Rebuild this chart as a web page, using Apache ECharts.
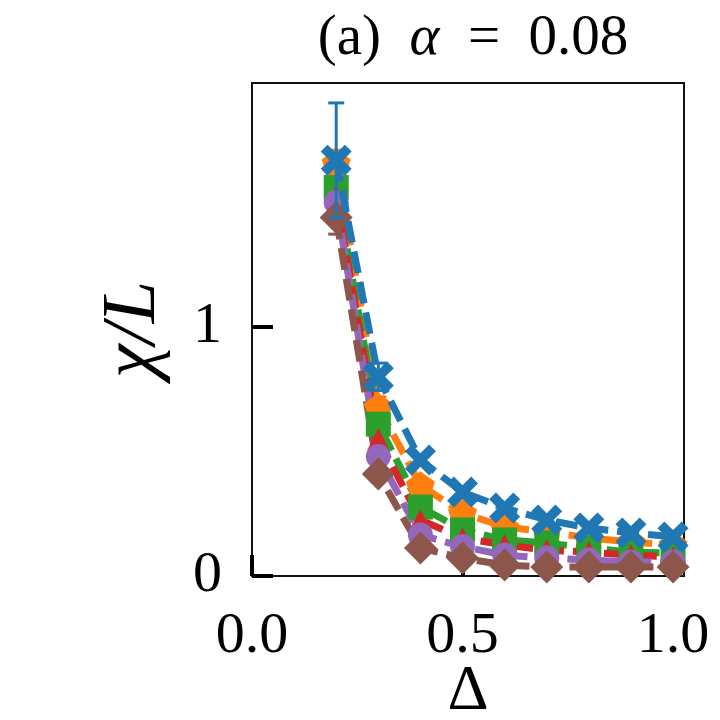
<!DOCTYPE html>
<html>
<head>
<meta charset="utf-8">
<script src="https://cdn.jsdelivr.net/npm/echarts@6/dist/echarts.min.js"></script>
<style>
  html, body { margin: 0; padding: 0; background: #fff; }
  #chart { width: 720px; height: 720px; }
</style>
</head>
<body>
<div id="chart"></div>
<script>
// Delta values (x) and chi/L for each series
var deltas = [0.2, 0.3, 0.4, 0.5, 0.6, 0.7, 0.8, 0.9, 1.0];

var chiBlue   = [1.67, 0.80, 0.466, 0.337, 0.273, 0.225, 0.193, 0.173, 0.157];
var chiOrange = [1.66, 0.68, 0.365, 0.253, 0.197, 0.177, 0.153, 0.137, 0.125];
var chiGreen  = [1.56, 0.61, 0.277, 0.185, 0.145, 0.133, 0.112, 0.096, 0.092];
var chiRed    = [1.53, 0.55, 0.225, 0.152, 0.125, 0.104, 0.096, 0.084, 0.076];
var chiPurple = [1.50, 0.48, 0.165, 0.118, 0.084, 0.072, 0.064, 0.056, 0.056];
var chiBrown  = [1.44, 0.41, 0.112, 0.072, 0.044, 0.036, 0.036, 0.036, 0.036];

var errBlue   = [0.23, 0.055, 0.02, 0.015, 0.01, 0.01, 0.01, 0.01, 0.01];
var errOrange = [0.05, 0.04, 0.02, 0.012, 0.01, 0.01, 0.008, 0.008, 0.008];
var errGreen  = [0.05, 0.03, 0.018, 0.01, 0.008, 0.008, 0.006, 0.006, 0.006];
var errRed    = [0.05, 0.03, 0.018, 0.01, 0.008, 0.008, 0.006, 0.006, 0.006];
var errPurple = [0.05, 0.03, 0.015, 0.01, 0.006, 0.006, 0.005, 0.005, 0.005];
var errBrown  = [0.067, 0.03, 0.015, 0.01, 0.006, 0.005, 0.005, 0.005, 0.005];

var xTicks = [0, 0.5, 1.0];
var yTicks = [0, 1];

var seriesDefs = [
    { values: chiBlue,   errs: errBlue,   color: '#1f77b4', size: 31,
      symbol: 'path://M-0.5,-0.28 L-0.28,-0.5 L0,-0.22 L0.28,-0.5 L0.5,-0.28 L0.22,0 L0.5,0.28 L0.28,0.5 L0,0.22 L-0.28,0.5 L-0.5,0.28 L-0.22,0 Z', z: 4 },
    { values: chiOrange, errs: errOrange, color: '#ff7f0e', size: 29,
      symbol: 'path://M0,-1 L0.951,-0.309 L0.588,0.809 L-0.588,0.809 L-0.951,-0.309 Z', z: 2 },
    { values: chiGreen,  errs: errGreen,  color: '#2ca02c', size: 25, symbol: 'rect', z: 2 },
    { values: chiRed,    errs: errRed,    color: '#d62728', size: 22, symbol: 'triangle', z: 2 },
    { values: chiPurple, errs: errPurple, color: '#9467bd', size: 25, symbol: 'circle', z: 2 },
    { values: chiBrown,  errs: errBrown,  color: '#8c564b', size: 33, symbol: 'diamond', z: 2 }
];

var fontFam = 'Liberation Serif';

function errRenderer(color) {
    return function(params, api) {
        var x = api.value(0), y = api.value(1), e = api.value(2);
        var top = api.coord([x, y + e]);
        var bot = api.coord([x, y - e]);
        var hw = 8;
        var st = { stroke: color, lineWidth: 3 };
        return {
            type: 'group',
            children: [
                { type: 'line', shape: { x1: top[0], y1: top[1], x2: bot[0], y2: bot[1] }, style: st },
                { type: 'line', shape: { x1: top[0] - hw, y1: top[1], x2: top[0] + hw, y2: top[1] }, style: st },
                { type: 'line', shape: { x1: bot[0] - hw, y1: bot[1], x2: bot[0] + hw, y2: bot[1] }, style: st }
            ]
        };
    };
}

var chart = echarts.init(document.getElementById('chart'));

var series = [];
for (var i = 0; i < seriesDefs.length; i++) {
    var d = seriesDefs[i];
    var lineData = [], errData = [];
    for (var j = 0; j < deltas.length; j++) {
        lineData.push([deltas[j], d.values[j]]);
        errData.push([deltas[j], d.values[j], d.errs[j]]);
    }
    series.push({
        type: 'custom',
        z: d.z,
        renderItem: errRenderer(d.color),
        encode: { x: 0, y: 1 },
        data: errData,
        silent: true
    });
    series.push({
        type: 'line',
        z: d.z,
        data: lineData,
        symbol: d.symbol,
        symbolSize: d.size,
        symbolKeepAspect: true,
        showAllSymbol: true,
        itemStyle: { color: d.color, opacity: 1 },
        lineStyle: { color: d.color, width: 7, type: [22, 9] },
        animation: false
    });
}

var option = {
    backgroundColor: 'white',
    animation: false,
    title: {
        text: '(a)  {i|α}  =  0.08',
        left: 468,
        textAlign: 'center',
        top: 6,
        textStyle: {
            fontFamily: fontFam,
            fontSize: 57,
            fontWeight: 'normal',
            color: '#000',
            rich: {
                i: { fontFamily: fontFam, fontSize: 57, fontStyle: 'italic', color: '#000' }
            }
        }
    },
    grid: {
        left: 252,
        right: 36,
        top: 83,
        bottom: 144,
        show: true,
        borderColor: '#111',
        borderWidth: 2,
        containLabel: false,
        outerBoundsMode: 'none'
    },
    xAxis: {
        type: 'value',
        min: 0,
        max: 1.026,
        name: 'Δ',
        nameLocation: 'middle',
        nameGap: 84,
        nameMoveOverlap: false,
        nameTextStyle: { fontFamily: fontFam, fontSize: 64, color: '#000' },
        axisLine: { show: true, onZero: false, lineStyle: { color: '#111', width: 2 } },
        axisTick: { show: true, inside: true, length: 21, customValues: xTicks, lineStyle: { color: '#000', width: 4 } },
        axisLabel: {
            customValues: xTicks,
            margin: 32,
            fontFamily: fontFam,
            fontSize: 58,
            color: '#000',
            formatter: function(v) { return v.toFixed(1); }
        },
        splitLine: { show: false }
    },
    yAxis: {
        type: 'value',
        min: 0,
        max: 1.98,
        name: 'χ/L',
        nameLocation: 'middle',
        nameGap: 80,
        nameRotate: 90,
        nameMoveOverlap: false,
        nameTextStyle: { fontFamily: fontFam, fontSize: 76, fontStyle: 'italic', color: '#000' },
        axisLine: { show: true, onZero: false, lineStyle: { color: '#111', width: 2 } },
        axisTick: { show: true, inside: true, length: 21, customValues: yTicks, lineStyle: { color: '#000', width: 4 } },
        axisLabel: {
            customValues: yTicks,
            margin: 30,
            fontFamily: fontFam,
            fontSize: 58,
            color: '#000',
            formatter: function(v) { return String(Math.round(v)); }
        },
        splitLine: { show: false }
    },
    series: series
};

chart.setOption(option);
window.addEventListener('resize', function() {
    chart.resize();
});
</script>
</body>
</html>
